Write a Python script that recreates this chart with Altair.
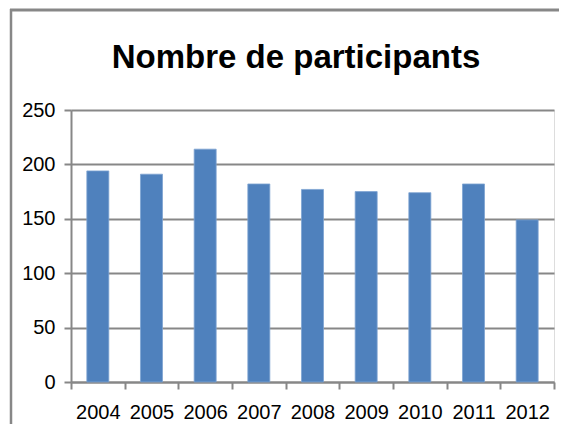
import altair as alt
import pandas as pd

years = ["2004", "2005", "2006", "2007", "2008", "2009", "2010", "2011", "2012"]
participants = [194, 191, 214, 182, 177, 175, 174, 182, 149]
y_ticks = [0, 50, 100, 150, 200, 250]
title_text = "Nombre de participants"

df = pd.DataFrame({"year": years, "n": participants})

GRAY = "#878787"
FONT = "Liberation Sans"

one = alt.Data(values=[{}])

frame_left = alt.Chart(one).mark_rule(stroke=GRAY, strokeWidth=2.5).encode(
    x=alt.value(-60), x2=alt.value(-60), y=alt.value(-101), y2=alt.value(330),
)
frame_top = alt.Chart(one).mark_rule(stroke=GRAY, strokeWidth=3).encode(
    x=alt.value(-61), x2=alt.value(495), y=alt.value(-100), y2=alt.value(-100),
)

title = alt.Chart(one).mark_text(
    text=title_text, font=FONT, fontSize=33, fontWeight="bold", color="black",
    align="center", baseline="alphabetic",
).encode(x=alt.value(225), y=alt.value(-42))

bars = alt.Chart(df).mark_bar(
    color="#4F81BD", stroke="#7ea3d2", strokeWidth=0.8,
    width=alt.RelativeBandSize(0.41),
).encode(
    x=alt.X("year:N", sort=years, title=None,
            scale=alt.Scale(paddingInner=0, paddingOuter=0),
            axis=alt.Axis(labelAngle=0, tickBand="extent", labelFont=FONT,
                          labelFontSize=20, labelColor="black", labelPadding=13,
                          domainColor=GRAY, domainWidth=2, tickColor=GRAY,
                          tickWidth=2, tickSize=7, grid=False)),
    y=alt.Y("n:Q", title=None,
            scale=alt.Scale(domain=[0, 250], nice=False),
            axis=alt.Axis(values=y_ticks, labelFont=FONT, labelFontSize=20,
                          labelColor="black", labelPadding=9,
                          domainColor=GRAY, domainWidth=2, tickColor=GRAY,
                          tickWidth=2, tickSize=7, grid=True, gridColor=GRAY,
                          gridWidth=2.2)),
)

chart = alt.layer(frame_left, frame_top, title, bars).properties(
    width=483, height=272,
    autosize=alt.AutoSizeParams(type="none"),
    padding={"left": 63, "top": 102, "right": 5, "bottom": 42},
).configure_view(strokeWidth=0, strokeOpacity=0).configure(background="white")

chart.save("out.html", embed_options={"renderer": "svg", "actions": False})
